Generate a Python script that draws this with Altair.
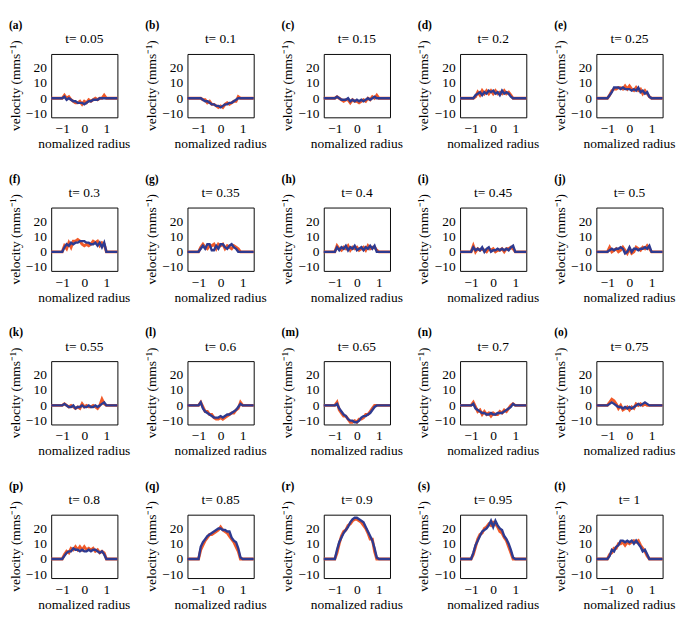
import altair as alt
import pandas as pd

FONT = "Liberation Serif"
RED = "#F15A29"
BLUE = "#2E3A90"
W, H = 69, 66

panel_labels = ["(a)", "(b)", "(c)", "(d)", "(e)", "(f)", "(g)", "(h)", "(i)", "(j)",
                "(k)", "(l)", "(m)", "(n)", "(o)", "(p)", "(q)", "(r)", "(s)", "(t)"]
times = ["0.05", "0.1", "0.15", "0.2", "0.25", "0.3", "0.35", "0.4", "0.45", "0.5",
         "0.55", "0.6", "0.65", "0.7", "0.75", "0.8", "0.85", "0.9", "0.95", "1"]
x_title = "nomalized radius"
y_title = "velocity (mms⁻¹)"

radius = [-1.5, -1.0, -0.9, -0.8, -0.7, -0.6, -0.5, -0.4, -0.3, -0.2, -0.1, 0.0,
          0.1, 0.2, 0.3, 0.4, 0.5, 0.6, 0.7, 0.8, 0.9, 1.0, 1.5]

red_values = [
    [0, 0, 2, 0, 1, -1, -2, -3, -3, -2, -4, -2, -3, -1, -2, -1, 0, -1, 0, 0, 2, 0, 0],
    [0, 0, 0, -1, -1, -3, -2, -4, -4, -5, -6, -5, -6, -4, -3, -4, -3, -2, -2, 1, 0, 0, 0],
    [0, 0, 1, 0, -1, -2, -1, -1, -3, -1, -2, -2, -3, -2, -1, -2, 0, -1, 1, 0, 2, 0, 0],
    [0, 0, 0, 1, 4, 2, 5, 3, 5, 3, 5, 3, 5, 3, 4, 3, 5, 3, 4, 2, 0, 0, 0],
    [0, 0, 2, 5, 6, 6, 7, 7, 6, 8, 6, 8, 6, 5, 7, 5, 6, 3, 5, 3, 1, 0, 0],
    [0, 0, 4, 2, 6, 3, 7, 7, 8, 7, 5, 4, 5, 4, 5, 7, 6, 7, 4, 6, 5, 0, 0],
    [0, 0, 3, 5, 3, 2, 4, 4, 5, 2, 5, 4, 5, 2, 4, 3, 2, 4, 3, 2, 0, 0, 0],
    [0, 0, 4, 2, 1, 3, 2, 4, 1, 3, 2, 3, 1, 2, 3, 1, 4, 2, 3, 3, 1, 0, 0],
    [0, 0, 4, 0, 2, 1, 2, 1, 0, 2, 1, 2, 0, 1, 1, 2, 0, 2, 2, 3, 2, 0, 0],
    [0, 0, 3, 0, 1, 2, 0, 1, 3, 1, -1, 2, -1, 0, 3, 2, 1, 3, 2, 4, 2, 0, 0],
    [0, 0, 1, 0, -1, 0, -1, -2, -1, -2, 1, -1, 0, -1, -1, 0, -1, -2, 0, 4, 1, 0, 0],
    [0, 0, 2, -1, -4, -4, -6, -6, -8, -9, -9, -8, -9, -8, -7, -6, -5, -5, -3, -2, 2, 0, 0],
    [0, 0, 2, -3, -5, -7, -7, -9, -11, -11, -10, -11, -9, -9, -8, -6, -6, -4, -2, 0, 0, 0, 0],
    [0, 0, 2, -1, -4, -3, -6, -4, -6, -5, -7, -5, -6, -6, -4, -5, -3, -4, -2, 0, 1, 0, 0],
    [0, 0, 2, 4, 3, 1, -2, 0, -3, -2, -1, -3, -1, -2, 1, 0, 1, 0, 1, 0, 0, 0, 0],
    [0, 0, 3, 5, 4, 7, 6, 8, 6, 8, 6, 8, 6, 7, 6, 7, 5, 6, 4, 5, 4, 0, 0],
    [0, 0, 6, 9, 12, 14, 16, 16, 17, 18, 19, 21, 19, 18, 17, 15, 13, 11, 8, 5, 0, 0, 0],
    [0, 0, 4, 10, 15, 18, 19, 22, 23, 25, 26, 26, 25, 24, 22, 20, 17, 13, 13, 5, 0, 0, 0],
    [0, 0, 3, 8, 13, 16, 17, 20, 21, 23, 22, 24, 23, 21, 18, 17, 14, 12, 8, 4, 0, 0, 0],
    [0, 0, 3, 4, 7, 7, 10, 10, 11, 9, 11, 10, 11, 12, 11, 12, 9, 7, 5, 2, 0, 0, 0],
]

blue_values = [
    [0, 0, 1, -1, 0, -1, -2, -2, -3, -3, -3, -4, -3, -2, -2, -1, -1, -1, 0, 0, 0, 0, 0],
    [0, 0, 0, -1, -2, -2, -3, -4, -4, -5, -5, -6, -5, -4, -4, -3, -3, -2, -1, 0, 0, 0, 0],
    [0, 0, 1, 0, -1, -1, -1, 0, -2, -1, -2, -1, -2, -1, -2, -1, 0, -1, 0, 1, 0, 0, 0],
    [0, 0, 0, 2, 3, 4, 2, 4, 3, 5, 4, 5, 3, 4, 2, 5, 3, 4, 3, 1, 0, 0, 0],
    [0, 0, 2, 4, 7, 7, 7, 6, 7, 6, 6, 6, 5, 6, 5, 7, 4, 5, 3, 4, 1, 0, 0],
    [0, 0, 3, 5, 4, 6, 5, 6, 6, 7, 7, 7, 6, 6, 5, 5, 6, 4, 6, 3, 6, 0, 0],
    [0, 0, 2, 4, 2, 5, 5, 1, 1, 4, 2, 5, 5, 3, 2, 4, 5, 3, 2, 0, 0, 0, 0],
    [0, 0, 3, 1, 3, 2, 4, 1, 3, 2, 4, 1, 2, 3, 1, 3, 2, 4, 2, 4, 0, 0, 0],
    [0, 0, 3, 1, 2, 1, 3, 0, 2, 3, 0, 1, 1, 2, 1, 2, 1, 2, 1, 3, 4, 0, 0],
    [0, 0, 1, 2, 1, 2, 2, 3, 2, -1, 0, 3, 0, 2, 2, 1, 2, 2, 3, 2, 4, 0, 0],
    [0, 0, 1, 0, -1, -1, 0, -2, -1, -1, 0, -1, -1, 0, -1, -1, 0, -1, 0, 1, 2, 0, 0],
    [0, 0, 2, -2, -4, -5, -6, -7, -8, -8, -8, -7, -8, -7, -6, -6, -5, -4, -3, -1, 1, 0, 0],
    [0, 0, 1, -2, -4, -6, -7, -9, -10, -10, -11, -11, -10, -8, -7, -7, -6, -5, -3, -1, 0, 0, 0],
    [0, 0, 1, -2, -3, -4, -5, -5, -6, -6, -5, -6, -6, -5, -5, -5, -4, -3, -2, -1, 1, 0, 0],
    [0, 0, 1, 2, 1, 0, -1, -1, -2, -1, -2, -1, -2, -1, 0, 1, 0, 1, 2, 1, 0, 0, 0],
    [0, 0, 2, 4, 5, 5, 7, 6, 6, 5, 6, 5, 5, 6, 5, 6, 6, 5, 4, 5, 3, 0, 0],
    [0, 0, 8, 11, 13, 15, 16, 17, 18, 19, 20, 20, 19, 19, 18, 18, 14, 12, 11, 7, 1, 0, 0],
    [0, 0, 6, 11, 14, 17, 19, 21, 24, 26, 27, 27, 26, 25, 24, 21, 18, 15, 12, 7, 1, 0, 0],
    [0, 0, 4, 9, 12, 15, 18, 19, 20, 22, 25, 21, 25, 22, 20, 19, 15, 13, 10, 6, 1, 0, 0],
    [0, 0, 2, 6, 5, 8, 9, 12, 12, 11, 12, 11, 12, 10, 12, 10, 8, 5, 6, 3, 0, 0, 0],
]

x_ticks = [-1, 0, 1]
y_ticks = [-10, 0, 10, 20]


def panel(i):
    df = pd.DataFrame({"r": radius, "red": red_values[i], "blue": blue_values[i]})
    xenc = alt.X("r:Q",
                 scale=alt.Scale(domain=[-1.5, 1.5], nice=False, zero=False),
                 axis=alt.Axis(values=x_ticks, title=None, grid=False,
                               ticks=False, domain=False, labelPadding=5))
    yscale = alt.Scale(domain=[-12.5, 29], nice=False, zero=False)
    yaxis = alt.Axis(values=y_ticks, title=None, grid=False,
                     ticks=False, domain=False, labelPadding=5)
    red = alt.Chart(df).mark_line(color=RED, strokeWidth=3).encode(
        x=xenc, y=alt.Y("red:Q", scale=yscale, axis=yaxis))
    blue = alt.Chart(df).mark_line(color=BLUE, strokeWidth=2.5).encode(
        x=xenc, y=alt.Y("blue:Q", scale=yscale, axis=yaxis))
    tdf = pd.DataFrame({"t": ["t= " + times[i]], "lab": [panel_labels[i]],
                        "xt": [x_title], "yt": [y_title]})
    ttxt = alt.Chart(tdf).mark_text(font=FONT, fontSize=14, baseline="middle",
                                    align="center", color="black").encode(
        x=alt.value(W / 2), y=alt.value(-15), text="t:N")
    ltxt = alt.Chart(tdf).mark_text(font=FONT, fontSize=12, fontWeight="bold",
                                    baseline="middle", align="left", color="black").encode(
        x=alt.value(-44), y=alt.value(-30), text="lab:N")
    xt = alt.Chart(tdf).mark_text(font=FONT, fontSize=14, baseline="middle",
                                  align="center", color="black").encode(
        x=alt.value(W / 2), y=alt.value(H + 28), text="xt:N")
    yt = alt.Chart(tdf).mark_text(font=FONT, fontSize=14, baseline="middle",
                                  align="center", color="black", angle=270).encode(
        x=alt.value(-37), y=alt.value(H / 2), text="yt:N")
    return alt.layer(red, blue, ttxt, ltxt, xt, yt).properties(width=W, height=H)


rows = [alt.hconcat(*[panel(r * 5 + c) for c in range(5)], spacing=13) for r in range(4)]
chart = alt.vconcat(*rows, spacing=21).properties(
    padding={"left": 0, "top": -2, "right": 0, "bottom": 0}
).configure_view(stroke="black", strokeWidth=1).configure_axis(
    labelFont=FONT, labelFontSize=14, labelColor="black"
)

chart.save("out.html", embed_options={"renderer": "svg", "actions": False})
